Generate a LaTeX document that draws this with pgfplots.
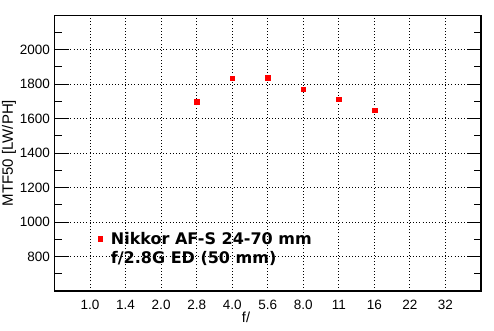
\documentclass[border=0pt]{standalone}
\usepackage{pgfplots}
\pgfplotsset{compat=1.18}
\usepackage{fontspec}
\setmainfont{Liberation Sans}
\newfontfamily\legfont{DejaVu Sans}
\begin{document}
\begin{tikzpicture}
\useasboundingbox (-54.5bp,-40bp) rectangle (439.5bp,291bp);
\begin{axis}[
  at={(0,0)}, anchor=south west,
  scale only axis, width=426.5bp, height=275.7bp,
  xmin=-1, xmax=11, ymin=600, ymax=2200,
  xtick={0,...,10},
  xticklabels={1.0,1.4,2.0,2.8,4.0,5.6,8.0,11,16,22,32},
  ytick={800,1000,...,2000},
  minor ytick={700,900,...,2100},
  /pgf/number format/assume math mode=true,
  /pgf/number format/1000 sep={},
  tick align=inside, ytick pos=both, yticklabel pos=left,
  major tick length=14bp, minor tick length=7bp,
  xtick style={draw=none},
  ytick style={black, line width=1bp},
  axis line style={line width=1.2bp, black},
  xmajorgrids, ymajorgrids,
  major grid style={black, line width=1bp, dash pattern=on 1bp off 2.2bp},
  tick label style={font=\fontsize{13.5bp}{15bp}\selectfont},
  xticklabel style={anchor=center, yshift=-14bp},
  yticklabel style={anchor=east, inner sep=0pt, xshift=-4.5bp},
  xlabel={f/}, ylabel={MTF50 [LW/PH]},
  every axis x label/.style={at={(axis description cs:0.449,-0.096)}, anchor=center, font=\fontsize{14.5bp}{16bp}\selectfont},
  every axis y label/.style={at={(axis description cs:-0.1067,0.5)}, rotate=90, anchor=center, font=\fontsize{15bp}{17bp}\selectfont},
  legend style={draw=none, fill=none, inner sep=0pt,
    at={(axis description cs:0.0863,0.222)}, anchor=north west,
    font=\legfont\bfseries\fontsize{16bp}{19.3bp}\selectfont,
    cells={anchor=base west}},
  legend image code/.code={\path (0bp,0bp) (17bp,0bp);\draw[mark repeat=2,mark phase=2,#1] plot coordinates {(0bp,5.8bp) (8.5bp,5.8bp) (17bp,5.8bp)};},
]
\addplot[only marks, mark=square*, mark size=2.4bp, mark options={fill=red, draw=red}, red]
  coordinates {(3,1700) (4,1835) (5,1840) (6,1771) (7,1713) (8,1649)};
\addlegendentry{\vtop{\hbox{Nikkor AF-S 24-70 mm}\hbox{f/2.8G ED (50 mm)}}}
\end{axis}
\end{tikzpicture}
\end{document}
